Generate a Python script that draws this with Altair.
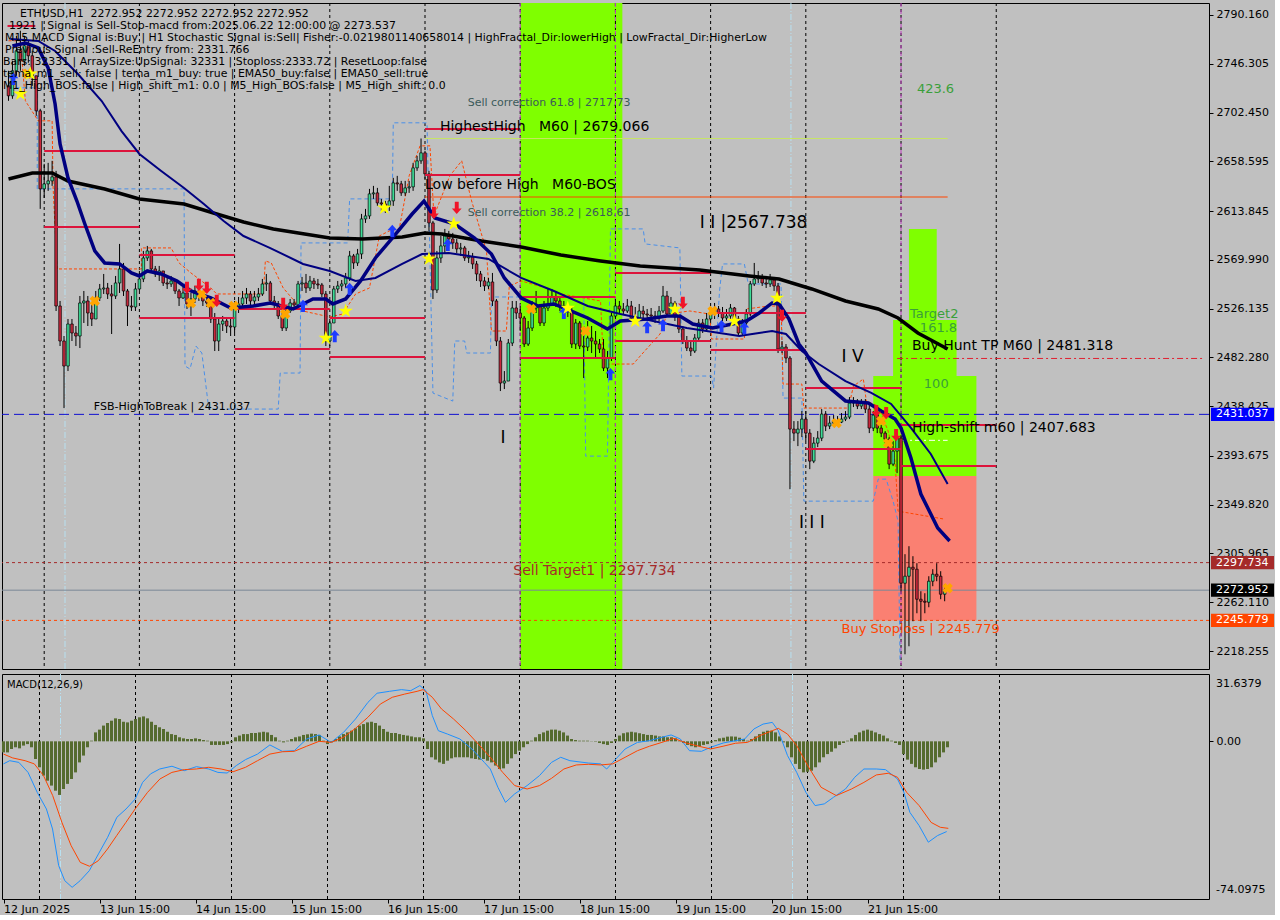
import altair as alt
import pandas as pd

# ---------------- layout ----------------
W = 1207
H_TOP = 666
H_MACD = 225
X_DOMAIN = [-0.375, 301.375]          # bar index, 4 px per H1 bar
PRICE_DOMAIN = [2202.07, 2800.95]
MACD_DOMAIN = [-74.0975, 31.6379]
FONT = "DejaVu Sans"
BG = "#C0C0C0"
BULL = "#3DDC97"
BEAR = "#C8283C"

# ---------------- ETHUSD H1 candles ----------------
FIRST_OPEN = 2726.5
closes = [
    2717.5, 2740.0, 2758.0, 2749.0, 2762.5, 2753.5, 2735.5, 2704.0, 2633.8, 2638.3,
    2641.0, 2644.6, 2528.5, 2497.0, 2474.5, 2512.3, 2504.2, 2501.5, 2531.2, 2533.0,
    2522.2, 2516.8, 2535.7, 2543.8, 2544.7, 2539.3, 2537.5, 2549.2, 2561.8, 2542.0,
    2528.5, 2527.6, 2543.8, 2552.8, 2571.7, 2578.0, 2561.8, 2557.3, 2560.0, 2549.2,
    2548.3, 2551.0, 2542.0, 2535.7, 2540.2, 2530.3, 2534.8, 2542.0, 2537.5, 2533.0,
    2531.2, 2516.8, 2497.0, 2512.3, 2515.0, 2510.5, 2509.6, 2526.7, 2530.3, 2535.7,
    2539.3, 2533.0, 2536.6, 2539.3, 2548.3, 2549.2, 2533.0, 2530.3, 2519.5, 2508.7,
    2524.0, 2531.2, 2529.4, 2548.3, 2549.2, 2544.7, 2551.0, 2548.3, 2547.4, 2539.3,
    2497.0, 2513.2, 2543.8, 2546.5, 2548.3, 2553.7, 2573.5, 2567.2, 2575.3, 2606.8,
    2609.5, 2629.3, 2630.2, 2621.2, 2620.3, 2618.5, 2623.0, 2639.2, 2638.3, 2630.2,
    2634.7, 2635.6, 2652.7, 2659.0, 2666.2, 2647.3, 2603.2, 2542.9, 2571.7, 2582.5,
    2591.5, 2588.8, 2585.2, 2579.8, 2580.7, 2571.7, 2572.6, 2566.3, 2557.3, 2551.0,
    2546.5, 2550.1, 2533.0, 2497.0, 2459.2, 2461.0, 2495.2, 2526.7, 2522.2, 2517.7,
    2494.3, 2508.7, 2526.7, 2528.5, 2513.2, 2526.7, 2530.3, 2536.6, 2533.0, 2528.5,
    2524.9, 2523.1, 2494.3, 2513.2, 2492.5, 2491.6, 2499.7, 2497.0, 2494.3, 2489.8,
    2472.7, 2481.7, 2519.5, 2528.5, 2525.8, 2524.0, 2528.5, 2517.7, 2516.8, 2524.0,
    2521.3, 2520.4, 2519.5, 2517.7, 2524.0, 2537.5, 2521.3, 2531.2, 2518.6, 2507.8,
    2497.0, 2490.7, 2488.0, 2499.7, 2513.2, 2507.8, 2516.8, 2521.3, 2525.8, 2522.2,
    2517.7, 2519.5, 2526.7, 2516.8, 2504.2, 2513.2, 2521.3, 2548.3, 2552.8, 2553.7,
    2549.2, 2548.3, 2551.9, 2546.5, 2489.8, 2491.6, 2481.7, 2417.8, 2414.2, 2417.8,
    2426.8, 2414.2, 2389.0, 2405.2, 2409.7, 2431.3, 2420.5, 2423.2, 2425.0, 2424.1,
    2426.8, 2428.6, 2441.2, 2443.0, 2438.5, 2441.2, 2435.8, 2418.7, 2430.4, 2418.7,
    2414.2, 2408.8, 2386.3, 2398.0, 2409.7, 2279.2, 2285.5, 2293.6, 2291.8, 2264.8,
    2263.0, 2262.1, 2281.0, 2287.3, 2285.5, 2269.3, 2272.952,
]
highs = [
    2740.0, 2749.0, 2771.5, 2776.0, 2771.5, 2767.0, 2758.0, 2735.5, 2705.8, 2656.3,
    2657.2, 2659.0, 2650.0, 2533.0, 2501.5, 2516.8, 2516.8, 2510.5, 2537.5, 2542.0,
    2537.5, 2531.2, 2542.0, 2548.3, 2557.3, 2549.2, 2547.4, 2555.5, 2584.3, 2567.2,
    2543.8, 2537.5, 2549.2, 2560.0, 2578.0, 2582.5, 2579.8, 2564.5, 2564.5, 2560.0,
    2555.5, 2555.5, 2552.8, 2543.8, 2545.6, 2542.0, 2540.2, 2546.5, 2544.7, 2542.0,
    2537.5, 2534.8, 2522.2, 2516.8, 2519.5, 2518.6, 2516.8, 2533.0, 2536.6, 2542.0,
    2544.7, 2542.0, 2542.0, 2544.7, 2552.8, 2557.3, 2551.0, 2537.5, 2533.0, 2522.2,
    2528.5, 2534.8, 2534.8, 2551.0, 2554.6, 2557.3, 2555.5, 2553.7, 2552.8, 2549.2,
    2542.0, 2516.8, 2546.5, 2551.0, 2551.9, 2558.2, 2578.0, 2575.3, 2579.8, 2611.3,
    2615.8, 2633.8, 2636.5, 2634.7, 2624.8, 2623.0, 2636.5, 2643.7, 2645.5, 2641.0,
    2641.0, 2641.0, 2657.2, 2663.5, 2679.1, 2668.0, 2650.0, 2605.0, 2578.0, 2591.5,
    2597.8, 2596.0, 2594.2, 2588.8, 2585.2, 2582.5, 2578.0, 2576.2, 2569.0, 2560.0,
    2554.6, 2553.7, 2558.2, 2534.8, 2500.6, 2470.0, 2498.8, 2533.0, 2533.0, 2528.5,
    2519.5, 2515.0, 2533.0, 2542.0, 2530.3, 2533.0, 2543.8, 2543.8, 2542.0, 2537.5,
    2533.0, 2530.3, 2527.6, 2516.8, 2515.0, 2510.5, 2515.0, 2510.5, 2506.0, 2498.8,
    2498.8, 2488.0, 2522.2, 2534.8, 2533.0, 2531.2, 2534.8, 2533.0, 2527.6, 2530.3,
    2528.5, 2525.8, 2526.7, 2524.0, 2528.5, 2546.5, 2542.0, 2536.6, 2533.0, 2521.3,
    2510.5, 2501.5, 2497.0, 2503.3, 2516.8, 2516.8, 2522.2, 2525.8, 2531.2, 2528.5,
    2527.6, 2525.8, 2530.3, 2527.6, 2519.5, 2516.8, 2525.8, 2551.0, 2567.2, 2560.0,
    2557.3, 2555.5, 2557.3, 2554.6, 2549.2, 2497.0, 2494.3, 2483.5, 2425.0, 2425.0,
    2434.0, 2434.0, 2417.8, 2410.6, 2416.0, 2435.8, 2434.0, 2429.5, 2430.4, 2429.5,
    2432.2, 2434.0, 2446.6, 2446.6, 2444.8, 2444.8, 2444.8, 2439.4, 2434.0, 2432.2,
    2421.4, 2416.0, 2410.6, 2407.0, 2414.2, 2411.5, 2305.3, 2312.5, 2303.5, 2297.2,
    2272.0, 2270.2, 2285.5, 2291.8, 2297.2, 2290.0, 2278.3,
]
lows = [
    2713.0, 2714.8, 2735.5, 2740.0, 2744.5, 2747.2, 2726.5, 2699.5, 2615.8, 2625.7,
    2632.0, 2636.5, 2524.0, 2492.5, 2436.7, 2470.0, 2497.0, 2492.5, 2490.7, 2513.2,
    2510.5, 2510.5, 2516.8, 2533.0, 2539.3, 2534.8, 2503.3, 2534.8, 2540.2, 2537.5,
    2510.5, 2524.0, 2524.0, 2542.0, 2550.0, 2569.0, 2558.2, 2554.6, 2551.0, 2546.5,
    2543.8, 2545.6, 2539.3, 2528.5, 2534.8, 2525.8, 2519.5, 2531.2, 2533.0, 2528.5,
    2527.6, 2513.2, 2488.0, 2488.0, 2506.0, 2504.2, 2501.5, 2504.2, 2522.2, 2526.7,
    2530.3, 2528.5, 2528.5, 2533.0, 2537.5, 2542.0, 2530.3, 2525.8, 2516.8, 2506.0,
    2506.0, 2522.2, 2525.8, 2528.5, 2542.0, 2540.2, 2542.0, 2543.8, 2543.8, 2536.6,
    2492.5, 2492.5, 2513.2, 2540.2, 2542.0, 2544.7, 2551.0, 2561.8, 2564.5, 2570.8,
    2603.2, 2606.8, 2624.8, 2618.5, 2614.0, 2612.2, 2614.0, 2618.5, 2632.0, 2627.5,
    2627.5, 2630.2, 2632.0, 2650.0, 2656.3, 2642.8, 2596.0, 2534.8, 2540.2, 2567.2,
    2576.2, 2582.5, 2579.8, 2576.2, 2573.5, 2569.0, 2567.2, 2561.8, 2551.0, 2545.6,
    2542.0, 2543.8, 2528.5, 2492.5, 2452.0, 2453.8, 2461.0, 2492.5, 2516.8, 2506.0,
    2491.6, 2492.5, 2506.0, 2522.2, 2510.5, 2510.5, 2524.0, 2528.5, 2527.6, 2524.0,
    2521.3, 2518.6, 2490.7, 2489.8, 2489.8, 2463.7, 2488.0, 2486.2, 2482.6, 2486.2,
    2470.0, 2463.7, 2479.0, 2516.8, 2522.2, 2520.4, 2522.2, 2515.0, 2513.2, 2515.0,
    2516.8, 2517.7, 2515.0, 2513.2, 2515.0, 2522.2, 2518.6, 2519.5, 2515.0, 2504.2,
    2494.3, 2488.0, 2483.5, 2486.2, 2497.0, 2504.2, 2506.0, 2515.0, 2516.8, 2518.6,
    2515.0, 2515.0, 2516.8, 2513.2, 2502.4, 2502.4, 2510.5, 2519.5, 2546.5, 2549.2,
    2546.5, 2544.7, 2545.6, 2542.0, 2486.2, 2486.2, 2477.2, 2363.8, 2407.0, 2402.5,
    2410.6, 2407.0, 2381.8, 2387.2, 2401.6, 2407.0, 2416.0, 2417.8, 2420.5, 2420.5,
    2423.2, 2425.0, 2426.8, 2437.6, 2435.8, 2435.8, 2432.2, 2414.2, 2416.0, 2414.2,
    2410.6, 2405.2, 2381.8, 2384.5, 2378.2, 2272.0, 2215.3, 2222.5, 2245.0, 2252.2,
    2245.0, 2252.2, 2257.6, 2276.5, 2281.0, 2264.8, 2263.0,
]

# ---------------- moving averages (bar index, price) ----------------
ma_black_idx = [0, 6, 11, 15, 24.25, 33, 44.25, 52.5, 59.25, 66.75, 81, 89.25, 99.25, 105, 109.25,
                119.25, 129.25, 139.25, 149.25, 159.25, 174.25, 186.75, 194.25, 202.5, 211, 219.25,
                224.25, 229.25, 236.75]
ma_black_val = [2642.7, 2648.1, 2648.1, 2640.9, 2633.7, 2624.7, 2620.2, 2611.2, 2604.0, 2597.7,
                2589.6, 2588.7, 2590.5, 2594.1, 2593.2, 2586.9, 2581.5, 2574.3, 2569.0, 2564.5,
                2560.9, 2555.5, 2552.8, 2543.8, 2533.0, 2525.8, 2517.7, 2504.2, 2489.8]
ma_fast_idx = [1, 4.25, 7.5, 10, 11.75, 13, 15, 17.25, 19.25, 21.75, 24.25, 28, 31, 33, 35, 38.5,
               42.5, 46, 51, 56, 61.75, 66, 71.75, 76.75, 80, 81.75, 85, 88.75, 92.5, 96.75, 101.75,
               104.75, 107.5, 112.5, 117.5, 121.75, 125, 129.25, 133.5, 137.5, 141.75, 146, 151,
               154.25, 161, 166, 169.25, 172.5, 177.5, 182.5, 186, 189.25, 192.5, 194.25, 196.75,
               199.25, 201, 205, 211, 216.75, 220, 223.5, 225, 227.5, 230, 234.25, 237.25]
ma_fast_val = [2762.3, 2765.0, 2760.5, 2742.5, 2710.1, 2674.2, 2643.6, 2622.9, 2602.2, 2578.0,
               2567.2, 2566.3, 2558.2, 2555.5, 2560.0, 2557.3, 2551.0, 2542.0, 2535.7, 2526.7,
               2528.5, 2531.2, 2525.8, 2534.8, 2534.8, 2530.3, 2534.8, 2551.0, 2571.7, 2589.6,
               2611.2, 2622.9, 2607.6, 2602.2, 2589.6, 2575.2, 2553.7, 2535.7, 2528.5, 2530.3,
               2524.0, 2517.7, 2507.8, 2515.0, 2516.8, 2519.5, 2519.5, 2512.3, 2508.7, 2512.3,
               2515.0, 2522.2, 2531.2, 2530.3, 2516.8, 2494.3, 2486.2, 2461.0, 2443.1, 2441.3,
               2434.1, 2426.9, 2418.8, 2391.8, 2359.4, 2328.9, 2317.2]
ma_slow_idx = [0.5, 7.5, 11.75, 17.5, 23.5, 28.5, 33, 38.5, 44.25, 49.25, 54.25, 59.25, 66, 74.25,
               81, 87.5, 92.5, 99.25, 104.25, 111, 121, 129.25, 137.5, 146, 154.25, 162.5, 171,
               179.25, 184.25, 187.5, 192.5, 196, 200, 204.25, 211, 217.5, 222.5, 227.5, 232.5, 236.75]
ma_slow_val = [2768.6, 2766.8, 2757.8, 2737.1, 2712.8, 2685.8, 2665.2, 2649.9, 2634.6, 2620.2,
               2604.9, 2591.4, 2580.6, 2566.3, 2560.0, 2551.0, 2553.7, 2566.3, 2575.2, 2576.1,
               2570.8, 2553.7, 2542.0, 2528.5, 2521.3, 2515.0, 2508.7, 2504.2, 2501.5, 2503.3,
               2506.0, 2503.3, 2488.0, 2476.3, 2461.0, 2450.3, 2440.4, 2418.8, 2395.4, 2368.4]

# ---------------- channel step lines ----------------
chan_blue_idx = [0, 7.25, 7.25, 44.25, 44.5, 45.75, 47.25, 48.75, 50.5, 68, 68.5, 73.5, 73.75, 85.5,
                 86, 96.75, 97, 105.5, 107, 112, 112.5, 115, 115.5, 121.5, 121.75, 145, 145.5, 151,
                 151.75, 160, 160.5, 169.25, 169.75, 177.25, 177.75, 179.25, 180, 185.5, 186.5,
                 194.75, 195.25, 200, 200.5, 218, 219.25, 221.25, 223, 224.25, 224.75]
chan_blue_val = [2724.7, 2724.7, 2633.8, 2633.8, 2474.5, 2471.8, 2492.5, 2486.2, 2435.8, 2435.8,
                 2468.2, 2468.2, 2585.2, 2585.2, 2624.8, 2624.8, 2693.2, 2693.2, 2450.2, 2443.0,
                 2497.0, 2497.0, 2486.2, 2486.2, 2536.6, 2536.6, 2393.5, 2393.5, 2597.8, 2597.8,
                 2584.3, 2580.7, 2465.5, 2465.5, 2454.7, 2542.0, 2566.3, 2566.3, 2548.3, 2548.3,
                 2445.7, 2445.7, 2353.0, 2353.0, 2372.8, 2372.8, 2353.0, 2335.0, 2209.0]
chan_orange_idx = [0, 3, 4.25, 7.5, 11, 11.25, 12.25, 33.5, 33.5, 41, 43, 46, 51, 52.5, 64.25, 64.75,
                   66.25, 69.25, 74.25, 81, 84.25, 87.5, 91, 93.5, 96, 98.5, 101, 103.75, 106.25,
                   107.25, 109.25, 111.25, 114.25, 116.75, 120.5, 121.75, 125.5, 126.25, 129.25,
                   135.5, 139.25, 149.25, 150, 157.5, 159.25, 164.25, 166, 171.75, 176.75, 177.25,
                   185.5, 186, 191.75, 194.75, 195.25, 200, 200.5, 211.75, 213, 215.5, 216.25,
                   219.25, 221.75, 223.5, 224.25, 236]
chan_orange_val = [2767.0, 2767.0, 2713.0, 2695.0, 2695.0, 2634.7, 2561.8, 2561.8, 2580.7, 2580.7,
                   2567.2, 2558.2, 2544.7, 2539.3, 2539.3, 2569.0, 2567.2, 2544.7, 2524.0, 2518.6,
                   2521.3, 2539.3, 2544.7, 2591.5, 2596.0, 2597.8, 2645.5, 2672.5, 2672.5, 2609.5,
                   2627.5, 2645.5, 2659.0, 2623.0, 2578.0, 2506.0, 2506.0, 2546.5, 2551.0, 2544.7,
                   2539.3, 2533.0, 2476.3, 2476.3, 2483.5, 2503.3, 2521.3, 2524.0, 2521.3, 2498.8,
                   2498.8, 2525.8, 2528.5, 2528.5, 2458.3, 2458.3, 2436.7, 2436.7, 2456.5, 2462.8,
                   2443.0, 2438.5, 2416.0, 2389.0, 2344.0, 2336.8]

# ---------------- daily high/low segments ----------------
seg_start = [-0.25, 9, 9, 33, 33, 57, 57, 81, 81, 105, 105, 129, 129, 153, 153, 177, 177, 201, 201, 225, 225]
seg_end = [6.75, 33, 33, 57, 57, 81, 81, 105, 105, 129, 129, 153, 153, 177, 177, 201, 201, 225, 225, 249, 249]
seg_price = [2780.3, 2667.9, 2599.5, 2574.4, 2517.7, 2525.8, 2489.8, 2517.7, 2482.6, 2687.6, 2646.3,
             2536.6, 2481.7, 2558.2, 2497.0, 2522.2, 2488.9, 2454.8, 2399.9, 2421.5, 2384.6]

# ---------------- zones ----------------
zone_i0 = [129, 218, 223, 227, 218]
zone_i1 = [154.75, 244, 239, 234, 244]
zone_lo = [2202.07, 2375.6, 2465.5, 2515.9, 2245.779]
zone_hi = [2800.95, 2465.5, 2515.9, 2597.7, 2375.6]
zone_col = ["#7FFF00", "#7FFF00", "#7FFF00", "#7FFF00", "#FA8072"]

# ---------------- signal markers ----------------
star_idx = [3, 5.5, 80, 85, 94.75, 106, 112.25, 141, 158, 168, 183, 193.75]
star_val = [2719.3, 2737.3, 2499.7, 2524.0, 2616.7, 2570.8, 2602.3, 2526.7, 2515.0, 2525.8, 2515.0, 2535.7]
up_idx = [1.25, 74.25, 82.25, 86, 96.75, 110.75, 140, 151.75, 161, 165, 179.75, 185.5]
up_val = [2732.8, 2528.5, 2501.5, 2543.8, 2596.0, 2583.4, 2522.2, 2467.3, 2509.6, 2511.4, 2510.5, 2508.7]
down_idx = [45, 48, 50, 52.5, 69.25, 107.25, 113, 170, 195, 218.75, 221.25, 223.75]
down_val = [2544.7, 2547.4, 2544.7, 2533.0, 2530.3, 2612.2, 2616.7, 2531.2, 2519.5, 2434.0, 2432.2, 2412.4]
cross_idx = [4.75, 21.75, 46, 48.75, 51, 56.75, 69.75, 131.75, 145.5, 177.5, 208.75, 220, 221.75, 236.75]
cross_val = [2737.3, 2533.0, 2531.2, 2539.3, 2531.2, 2528.5, 2521.3, 2525.8, 2506.0, 2524.0, 2423.2,
             2425.0, 2405.2, 2274.7]

# ---------------- MACD(12,26,9) ----------------
macd_hist = [
    -5.2, -5.2, -3.6, -2.8, -3.3, -2.0, -1.3, -2.8, -8.3, -12.2,
    -16.1, -18.5, -20.8, -23.2, -25.2, -22.4, -20.0, -17.7, -14.6, -9.9,
    -6.7, -2.8, 0.3, 4.2, 5.5, 7.4, 8.6, 9.7, 10.8, 10.5,
    9.2, 8.9, 9.7, 10.5, 11.3, 11.7, 10.8, 9.2, 7.7, 6.6,
    5.8, 4.5, 3.4, 3.0, 1.9, 1.4, 1.1, 1.1, 1.4, 1.1,
    0.6, 0.3, -1.7, -1.7, -1.7, -1.7, -1.3, -0.5, 1.9, 2.7,
    3.4, 3.4, 3.9, 3.9, 4.2, 4.5, 4.2, 3.0, 1.9, 0.3,
    -0.5, 0.3, 1.1, 1.9, 2.3, 3.0, 3.3, 3.6, 3.4, 3.0,
    0.3, -1.3, -0.5, 1.1, 2.3, 3.4, 4.2, 5.0, 6.1, 7.4,
    8.1, 8.9, 9.2, 8.6, 7.4, 5.8, 4.5, 3.9, 3.9, 3.4,
    3.0, 2.7, 2.3, 1.9, 1.9, 1.4, -3.6, -7.5, -8.6, -9.9,
    -10.6, -9.1, -8.0, -7.5, -7.5, -7.5, -7.5, -8.0, -8.3, -8.6,
    -8.3, -9.1, -9.9, -11.4, -13.0, -12.7, -10.6, -8.0, -6.0, -4.4,
    -2.8, -1.3, 0.3, 1.9, 3.4, 4.2, 5.0, 5.5, 5.5, 5.0,
    4.2, 2.7, 1.1, 0.6, 0.3, 0.3, 0.3, 0.1, -0.2, -0.8,
    -1.3, -1.7, -0.8, 1.1, 2.7, 3.8, 4.2, 4.5, 4.2, 3.8,
    3.4, 3.0, 3.0, 2.7, 2.3, 2.3, 1.9, 1.9, 1.4, 0.3,
    -0.8, -1.7, -2.3, -2.8, -2.3, -1.7, -1.3, -0.5, 0.6, 1.4,
    1.7, 2.2, 2.3, 2.2, 1.7, 1.1, 0.3, 1.1, 2.3, 3.4,
    4.5, 5.0, 5.0, 4.2, 2.3, -0.5, -2.8, -7.5, -10.6, -13.0,
    -14.6, -14.3, -13.8, -12.2, -9.9, -7.5, -6.0, -4.9, -3.3, -1.7,
    -0.8, 0.3, 1.4, 3.0, 4.2, 5.0, 5.5, 5.0, 4.2, 3.4,
    2.7, 1.4, 0.3, -0.8, -1.7, -6.0, -8.6, -10.6, -12.2, -13.0,
    -13.3, -13.0, -12.2, -9.9, -7.5, -5.2, -2.8,
]
macd_main_idx = [0, 1.55, 3.84, 6.14, 8.44, 10.73, 12.26, 13.79, 15.32, 17.16, 19.15, 21.45, 23.74,
                 26.04, 28.34, 30.63, 32.93, 34.77, 36.76, 39.05, 42.12, 45.18, 48.24, 51.3, 53.6,
                 55.9, 58.2, 60.5, 63.5, 66.6, 69.7, 72.7, 75.8, 78.9, 81.9, 85.0, 88.0, 91.1, 93.4,
                 96.5, 99.5, 101.8, 104.1, 105.6, 107.2, 108.7, 111.0, 114.1, 117.1, 120.2, 121.7,
                 123.6, 125.5, 127.8, 130.9, 134.0, 137.0, 139.3, 141.6, 146.2, 149.3, 150.8, 152.3,
                 155.4, 158.5, 161.5, 164.6, 166.9, 169.2, 171.5, 174.5, 176.8, 179.9, 183.0, 185.3,
                 187.6, 189.9, 192.2, 193.7, 196.0, 198.3, 200.6, 202.9, 205.2, 207.5, 210.5, 212.8,
                 215.1, 218.2, 220.5, 223.5, 225.1, 226.6, 228.9, 231.2, 233.5, 235.8]
macd_main_val = [-10.6, -9.1, -9.9, -14.6, -24.0, -31.8, -41.2, -58.4, -65.5, -68.6, -65.5, -60.8,
                 -52.9, -45.1, -35.7, -31.8, -27.1, -19.3, -15.3, -13.0, -11.7, -13.8, -11.9, -13.0,
                 -14.6, -14.9, -11.4, -8.6, -6.0, -1.7, -4.7, -4.4, 1.1, 3.0, -0.5, 4.2, 10.5, 18.3,
                 22.6, 23.5, 24.3, 23.8, 26.2, 23.8, 12.1, 5.0, 3.4, 1.1, -3.6, -9.9, -13.0, -21.6,
                 -28.7, -24.7, -20.8, -16.1, -9.9, -7.5, -9.1, -10.2, -10.6, -13.0, -9.9, -3.6, -0.5,
                 0.3, 1.9, 3.0, 1.1, -4.4, -4.7, -2.8, -0.8, 0.3, 1.1, 5.8, 8.1, 8.9, 5.0, -6.7,
                 -14.6, -24.0, -30.2, -29.4, -26.3, -22.4, -16.9, -13.0, -13.0, -13.3, -17.7, -24.0,
                 -33.4, -39.6, -47.4, -44.3, -42.4]
macd_signal_idx = [0, 2.3, 5.4, 7.7, 10.0, 12.3, 14.6, 16.9, 19.2, 21.5, 23.7, 26.0, 28.3, 30.6, 32.9,
                   36.0, 39.1, 42.1, 45.2, 48.2, 51.3, 54.4, 57.4, 60.5, 63.5, 66.6, 69.7, 72.7, 75.8,
                   78.9, 81.9, 85.0, 88.0, 91.1, 94.2, 97.2, 100.3, 103.4, 104.9, 107.2, 109.5, 112.5,
                   115.6, 118.7, 121.7, 124.8, 127.8, 130.9, 134.0, 137.0, 140.1, 143.2, 146.2, 149.3,
                   152.3, 155.4, 158.5, 161.5, 164.6, 167.6, 170.7, 173.8, 176.8, 179.9, 183.0, 186.0,
                   189.1, 192.2, 193.7, 196.0, 198.3, 201.3, 204.4, 208.2, 212.0, 215.1, 218.2, 221.2,
                   223.5, 225.8, 228.9, 231.9, 234.2, 236.2]
macd_signal_val = [-6.0, -7.8, -9.1, -10.6, -16.1, -25.5, -38.1, -49.0, -56.9, -58.7, -56.1, -50.6,
                   -44.3, -38.1, -31.8, -24.0, -17.7, -14.6, -13.3, -13.0, -12.2, -13.0, -14.3, -12.2,
                   -9.1, -6.0, -4.9, -4.7, -2.3, 0.0, -0.5, 1.9, 6.1, 11.3, 17.5, 20.7, 22.2, 23.5,
                   24.3, 20.7, 15.2, 10.5, 5.0, -1.3, -7.5, -14.6, -20.8, -22.4, -20.8, -17.4, -13.0,
                   -11.1, -10.8, -11.1, -10.6, -7.5, -4.4, -2.3, -0.5, 1.4, -0.8, -2.3, -3.6, -2.3,
                   -0.9, -0.5, 2.7, 5.0, 6.1, 3.4, -2.0, -12.2, -21.6, -25.5, -22.4, -19.3, -15.8,
                   -15.0, -16.9, -24.0, -30.2, -38.1, -40.4, -40.9]

# ---------------- axes ----------------
price_ticks = [2790.160, 2746.305, 2702.450, 2658.595, 2613.845, 2569.990, 2526.135,
               2482.280, 2438.425, 2393.675, 2349.820, 2305.965, 2262.110, 2218.255]
time_ticks = [0, 24, 48, 72, 96, 120, 144, 168, 192, 216]
time_labels = ["12 Jun 2025", "13 Jun 15:00", "14 Jun 15:00", "15 Jun 15:00", "16 Jun 15:00",
               "17 Jun 15:00", "18 Jun 15:00", "19 Jun 15:00", "20 Jun 15:00", "21 Jun 15:00"]
day_lines = [9, 33, 57, 81, 105, 129, 153, 177, 201, 225, 249]
zone_edge_lines = [129, 153, 225]
cursor_lines = [14.25, 197.25]

NB = "\u00a0"

# ---------------- scales / encodings ----------------
xs = alt.Scale(domain=X_DOMAIN, nice=False, zero=False)
ys = alt.Scale(domain=PRICE_DOMAIN, nice=False, zero=False)
ms = alt.Scale(domain=MACD_DOMAIN, nice=False, zero=False)

price_axis = alt.Axis(orient="right", values=price_ticks, format=".3f", title=None, tickSize=4,
                      labelPadding=3, labelOverlap=False, labelFlush=False, domain=False, grid=False,
                      labelFont=FONT, labelFontSize=11, labelColor="black", tickColor="black")
label_js = "[" + ",".join("'" + t + "'" for t in time_labels) + "][round(datum.value/24)]"
time_axis = alt.Axis(values=time_ticks, labelExpr=label_js, labelAlign="left", tickSize=4,
                     title=None, labelOverlap=False, labelFlush=False, domain=False, grid=False,
                     labelPadding=0, labelFont=FONT, labelFontSize=11, labelColor="black",
                     tickColor="black")
macd_axis = alt.Axis(orient="right", values=[0], labelExpr="'0.00'", title=None, tickSize=4,
                     labelPadding=3, domain=False, grid=False, labelFont=FONT, labelFontSize=11,
                     labelColor="black", tickColor="black")


def X(field):
    return alt.X(f"{field}:Q", scale=xs, axis=None)


def Y(field):
    return alt.Y(f"{field}:Q", scale=ys, axis=price_axis)


def XM(field):
    return alt.X(f"{field}:Q", scale=xs, axis=time_axis)


def YM(field):
    return alt.Y(f"{field}:Q", scale=ms, axis=macd_axis)


# ---------------- price panel ----------------
opens = [FIRST_OPEN] + closes[:-1]
bars = pd.DataFrame({"i": list(range(len(closes))), "open": opens, "high": highs,
                     "low": lows, "close": closes})
bars["dir"] = ["up" if c >= o else "down" for o, c in zip(opens, closes)]

zones = pd.DataFrame({"i0": zone_i0, "i1": zone_i1, "lo": zone_lo, "hi": zone_hi, "col": zone_col})
zone_layer = alt.Chart(zones).mark_rect().encode(
    x=X("i0"), x2="i1", y=Y("lo"), y2="hi", color=alt.Color("col:N", scale=None))

day_df = pd.DataFrame({"i": day_lines})
edge_df = pd.DataFrame({"i": zone_edge_lines})
cursor_df = pd.DataFrame({"i": cursor_lines})


def vlines(df, xenc, color, dash, width=1):
    return alt.Chart(df).mark_rule(color=color, strokeDash=dash, strokeWidth=width).encode(x=xenc)


grid_top = vlines(day_df, X("i"), "black", [3, 3])
edges_top = vlines(edge_df, X("i"), "#C040C0", [4, 3])
cursor_top = vlines(cursor_df, X("i"), "#B8E0F0", [6, 2, 1, 2])

hl = []
for p, col, dash in [(2431.037, "#1010D0", [10, 5]), (2297.734, "#A52A2A", [3, 3]),
                     (2272.952, "#7A8896", [1, 0]), (2245.779, "#FF4500", [3, 3])]:
    hl.append(alt.Chart(pd.DataFrame({"p": [p]})).mark_rule(
        color=col, strokeDash=dash, strokeWidth=1).encode(y=Y("p")))

level_lines = []
for i0, i1, p, col, dash in [
    (224, 301.375, 2481.318, "#E02030", [6, 3, 2, 3]),
    (105, 236.75, 2626.5, "#FF4500", [1, 0]),
    (105, 236.75, 2679.066, "#C8E664", [1, 0]),
    (225, 236.75, 2407.683, "#FFFFFF", [6, 3, 2, 3]),
]:
    level_lines.append(alt.Chart(pd.DataFrame({"i0": [i0], "i1": [i1], "p": [p]})).mark_rule(
        color=col, strokeDash=dash, strokeWidth=1).encode(x=X("i0"), x2="i1", y=Y("p")))

blue_chan = pd.DataFrame({"i": chan_blue_idx, "p": chan_blue_val, "k": range(len(chan_blue_idx))})
orange_chan = pd.DataFrame({"i": chan_orange_idx, "p": chan_orange_val,
                            "k": range(len(chan_orange_idx))})
chan_layers = [
    alt.Chart(blue_chan).mark_line(color="#4A8FE8", strokeWidth=1, strokeDash=[4, 3]).encode(
        x=X("i"), y=Y("p"), order="k:Q"),
    alt.Chart(orange_chan).mark_line(color="#FF4500", strokeWidth=1, strokeDash=[3, 2]).encode(
        x=X("i"), y=Y("p"), order="k:Q"),
]

wicks = alt.Chart(bars).mark_rule(color="black", strokeWidth=1).encode(
    x=X("i"), y=Y("low"), y2="high")
bodies = alt.Chart(bars).mark_bar(size=2.6, stroke="black", strokeWidth=0.7).encode(
    x=X("i"), y=Y("open"), y2="close",
    color=alt.Color("dir:N", scale=alt.Scale(domain=["up", "down"], range=[BULL, BEAR]),
                    legend=None))

segs = pd.DataFrame({"i0": seg_start, "i1": seg_end, "p": seg_price})
seg_layer = alt.Chart(segs).mark_rule(color="#DC143C", strokeWidth=2).encode(
    x=X("i0"), x2="i1", y=Y("p"))


def ma(idx, val, color, width):
    df = pd.DataFrame({"i": idx, "p": val})
    return alt.Chart(df).mark_line(color=color, strokeWidth=width).encode(x=X("i"), y=Y("p"))


ma_layers = [
    ma(ma_black_idx, ma_black_val, "#000000", 3.5),
    ma(ma_slow_idx, ma_slow_val, "#000080", 2),
    ma(ma_fast_idx, ma_fast_val, "#000080", 3.5),
]

STAR = ("M0,-1 L0.2245,-0.309 L0.9511,-0.309 L0.3633,0.118 L0.5878,0.809 L0,0.382 "
        "L-0.5878,0.809 L-0.3633,0.118 L-0.9511,-0.309 L-0.2245,-0.309 Z")
UP = "M0,-1 L0.8,-0.1 L0.32,-0.1 L0.32,1 L-0.32,1 L-0.32,-0.1 L-0.8,-0.1 Z"
DOWN = "M0,1 L0.8,0.1 L0.32,0.1 L0.32,-1 L-0.32,-1 L-0.32,0.1 L-0.8,0.1 Z"


def markers(idx, val, shape, color, size, angle=0):
    df = pd.DataFrame({"i": idx, "p": val})
    return alt.Chart(df).mark_point(shape=shape, filled=True, color=color, size=size, opacity=1,
                                    angle=angle, strokeWidth=0).encode(x=X("i"), y=Y("p"))


marker_layers = [
    markers(cross_idx, cross_val, "cross", "#FFA500", 110, 45),
    markers(up_idx, up_val, UP, "#1E3CFF", 150),
    markers(down_idx, down_val, DOWN, "#F01428", 150),
    markers(star_idx, star_val, STAR, "#FFFF00", 230),
]

notes = pd.DataFrame([
    ("Sell correction 61.8 | 2717.73", 115.75, 2711.2, 11, "#3C5A5A"),
    ("HighestHigh" + NB * 3 + "M60 | 2679.066", 108.75, 2689.6, 14, "#000000"),
    ("Low before High" + NB * 3 + "M60-BOS", 105, 2637.4, 14, "#000000"),
    ("Sell correction 38.2 | 2618.61", 115.75, 2612.2, 11, "#3C5A5A"),
    ("I I |2567.738", 174.25, 2603.2, 17, "#000000"),
    ("423.6", 229, 2723.8, 13, "#3A9F3A"),
    ("Target2", 227.25, 2521.3, 13, "#3A9F3A"),
    ("161.8", 229.75, 2508.7, 13, "#3A9F3A"),
    ("Buy Hunt TP M60 | 2481.318", 227.75, 2492.5, 14, "#000000"),
    ("I V", 210, 2482.6, 17, "#000000"),
    ("100", 230.75, 2458.3, 13, "#3A9F3A"),
    ("FSB-HighToBreak | 2431.037", 21.5, 2437.6, 11, "#000000"),
    ("High-shift m60 | 2407.683", 227.75, 2418.7, 14, "#000000"),
    ("I", 124, 2409.7, 17, "#000000"),
    ("I I I", 199.25, 2333.2, 17, "#000000"),
    ("Sell Target1 | 2297.734", 127.25, 2290.0, 14, "#A52A2A"),
    ("Buy Stoploss | 2245.779", 210, 2237.8, 13, "#FF4500"),
], columns=["t", "i", "p", "fs", "col"])
note_layer = alt.Chart(notes).mark_text(align="left", baseline="middle", font=FONT).encode(
    x=X("i"), y=Y("p"), text="t:N", size=alt.Size("fs:Q", scale=None),
    color=alt.Color("col:N", scale=None))

header_lines = [
    ("ETHUSD,H1" + NB * 2 + "2272.952 2272.952 2272.952 2272.952", 18, 11),
    ("1921 | Signal is Sell-Stop-macd from:2025.06.22 12:00:00 @ 2273.537", 7, 23),
    ("M15 MACD Signal is:Buy | H1 Stochastic Signal is:Sell| Fisher:-0.0219801140658014 | "
     "HighFractal_Dir:lowerHigh | LowFractal_Dir:HigherLow", 3, 35),
    ("Previous Signal :Sell-ReEntry from: 2331.766", 3, 47),
    ("Bars: 32331 | ArraySize:UpSignal: 32331 | Stoploss:2333.72 | ResetLoop:false", 1, 59),
    ("tema_m1_sell: false | tema_m1_buy: true | EMA50_buy:false | EMA50_sell:true", 1, 71),
    ("M1_High_BOS:false | High_shift_m1: 0.0 | M5_High_BOS:false | M5_High_shift: 0.0", 1, 83),
]
header_layers = [
    alt.Chart(pd.DataFrame({"t": [t]})).mark_text(
        align="left", baseline="middle", font=FONT, fontSize=10.9, color="black").encode(
        x=alt.value(hx), y=alt.value(hy), text="t:N")
    for t, hx, hy in header_lines
]

BOX_HALF = 6.6 * (PRICE_DOMAIN[1] - PRICE_DOMAIN[0]) / H_TOP
boxes = pd.DataFrame({
    "p": [2431.037, 2297.734, 2272.952, 2245.779],
    "bg": ["#0000FF", "#A52A2A", "#000000", "#FF4500"],
})
boxes["lo"] = boxes["p"] - BOX_HALF
boxes["hi"] = boxes["p"] + BOX_HALF
boxes["label"] = boxes["p"].map(lambda v: f"{v:.3f}")
box_rects = alt.Chart(boxes).mark_rect().encode(
    x=alt.value(W + 2), x2=alt.value(W + 65), y=Y("lo"), y2="hi",
    color=alt.Color("bg:N", scale=None))
box_texts = alt.Chart(boxes).mark_text(align="left", baseline="middle", font=FONT, fontSize=11,
                                       color="white").encode(
    x=alt.value(W + 7), y=Y("p"), text="label:N")

top = alt.layer(
    zone_layer, grid_top, edges_top, cursor_top, *hl, *level_lines, *chan_layers,
    wicks, bodies, seg_layer, *ma_layers, *marker_layers, note_layer, *header_layers,
    box_rects, box_texts,
).properties(width=W, height=H_TOP)

# ---------------- MACD panel ----------------
hist_df = pd.DataFrame({"i": list(range(len(macd_hist))), "v": macd_hist, "base": 0.0})
hist_layer = alt.Chart(hist_df).mark_rule(color="#556B2F", strokeWidth=3).encode(
    x=XM("i"), y=YM("base"), y2="v")
main_layer = alt.Chart(pd.DataFrame({"i": macd_main_idx, "v": macd_main_val})).mark_line(
    color="#1E90FF", strokeWidth=1).encode(x=XM("i"), y=YM("v"))
signal_layer = alt.Chart(pd.DataFrame({"i": macd_signal_idx, "v": macd_signal_val})).mark_line(
    color="#FF4500", strokeWidth=1).encode(x=XM("i"), y=YM("v"))
grid_bot = vlines(day_df, XM("i"), "black", [3, 3])
cursor_bot = vlines(cursor_df, XM("i"), "#B8E0F0", [6, 2, 1, 2])

extremes = pd.DataFrame({"v": MACD_DOMAIN[::-1], "label": ["31.6379", "-74.0975"],
                         "dy": [10, -9]})
ext_layers = [
    alt.Chart(extremes.iloc[[k]]).mark_text(align="left", baseline="middle", font=FONT,
                                            fontSize=11, color="black",
                                            dy=int(extremes.dy.iloc[k])).encode(
        x=alt.value(W + 7), y=YM("v"), text="label:N")
    for k in range(2)
]
macd_title = alt.Chart(pd.DataFrame({"t": ["MACD(12,26,9)"]})).mark_text(
    align="left", baseline="middle", font=FONT, fontSize=10, color="black").encode(
    x=alt.value(5), y=alt.value(11), text="t:N")

bottom = alt.layer(
    grid_bot, cursor_bot, hist_layer, main_layer, signal_layer, *ext_layers, macd_title,
).properties(width=W, height=H_MACD)

chart = alt.vconcat(
    top, bottom, spacing=3,
    padding={"left": 0, "top": 2, "right": 0, "bottom": 0},
).configure(background=BG).configure_view(stroke="black", strokeWidth=1, fill=BG)

chart.save("out.html", embed_options={"renderer": "svg", "actions": False})
